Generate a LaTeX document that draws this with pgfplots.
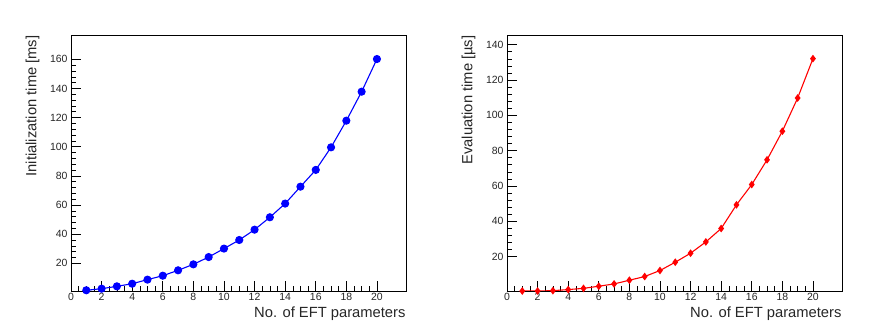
\documentclass[border=0pt]{standalone}
\usepackage{pgfplots}
\pgfplotsset{compat=1.18}
\usepackage{fontspec}
\setmainfont{Liberation Sans}
\begin{document}
\begin{tikzpicture}
\path[use as bounding box] (0bp,0bp) rectangle (872bp,326bp);
\pgfplotsset{
  rootstyle/.style={
    scale only axis, width=335bp, height=256bp,
    axis line style={line width=0.9pt},
    xmin=0, xmax=21.9,
    xtick={0,2,...,20}, minor x tick num=3,
    minor y tick num=4,
    tick align=inside,
    xtick pos=bottom, ytick pos=left,
    major tick length=10bp, minor tick length=5bp,
    tick style={black, line width=0.6pt},
    ticklabel style={font=\fontsize{10.5}{12}\selectfont, text=black!85},
    /pgf/number format/assume math mode=true,
    xticklabel style={yshift=1bp},
    xlabel={No. of EFT parameters},
    label style={font=\fontsize{14.8}{17}\selectfont, text=black!85},
    xlabel style={at={(rel axis cs:1,0)}, anchor=north east, yshift=-12bp, xshift=3bp},
    ylabel style={at={(rel axis cs:0,1)}, anchor=south east, rotate=0, yshift=28bp, xshift=3bp},
  }
}
\begin{axis}[rootstyle, at={(71bp,35bp)}, anchor=south west,
  ymin=1, ymax=176.7, ytick={20,40,...,160},
  ylabel={Initialization time [ms]}]
\addplot[blue, line width=1.1pt, mark=*, mark size=3.5bp, mark options={fill=blue}] coordinates {
(1,1.5) (2,2.6) (3,4.2) (4,6.0) (5,8.8) (6,11.5) (7,15.2) (8,19.3) (9,24.3) (10,30.1)
(11,36.0) (12,43.1) (13,51.6) (14,61.0) (15,72.6) (16,84.1) (17,99.6) (18,117.9) (19,137.8) (20,160.2)};
\end{axis}
\begin{axis}[rootstyle, at={(507bp,35bp)}, anchor=south west,
  ymin=0.5, ymax=145.5, ytick={20,40,...,140},
  ylabel={Evaluation time [µs]}]
\addplot[red, line width=1.1pt, mark=diamond*, mark size=3bp, mark options={fill=red}] coordinates {
(1,0.5) (2,0.5) (3,0.7) (4,1.3) (5,2.0) (6,3.2) (7,4.5) (8,6.6) (9,8.7) (10,12.1)
(11,16.8) (12,21.9) (13,28.3) (14,35.9) (15,49.3) (16,60.8) (17,74.8) (18,91.0) (19,109.8) (20,132.1)};
\end{axis}
\end{tikzpicture}
\end{document}
